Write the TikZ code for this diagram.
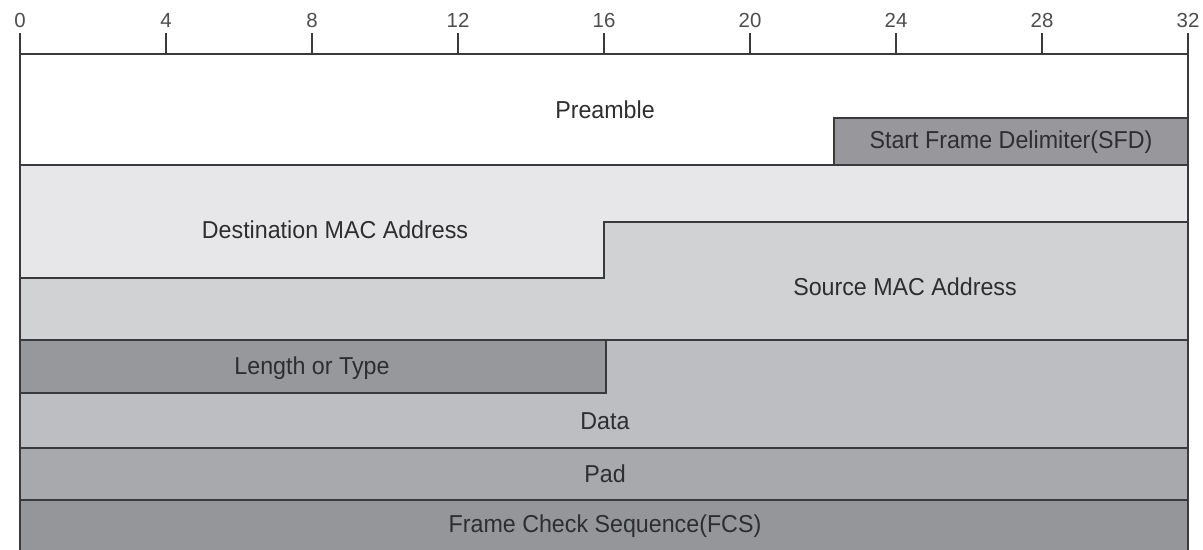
\documentclass[tikz,border=0pt]{standalone}
\usepackage{fontspec}
\setmainfont{Liberation Sans}
\definecolor{linegray}{HTML}{3A3A3C}
\definecolor{textgray}{HTML}{2E2E30}
\definecolor{sfdgray}{HTML}{98989C}
\definecolor{destgray}{HTML}{E7E7E9}
\definecolor{srcgray}{HTML}{D1D2D4}
\definecolor{lengray}{HTML}{97989B}
\definecolor{datagray}{HTML}{BDBEC1}
\definecolor{padgray}{HTML}{A8A9AC}
\definecolor{fcsgray}{HTML}{959699}
\begin{document}
\begin{tikzpicture}[x=0.025cm,y=-0.025cm,
    field/.style={draw=linegray,line width=1pt},
    fieldtext/.style={font=\fontsize{17.4}{19}\selectfont,text=textgray,inner sep=0pt,
      xscale=0.95},
    bittext/.style={font=\fontsize{14.5}{16}\selectfont,text=textgray!85,inner sep=0pt}]
    \useasboundingbox (0,0) rectangle (1203,550);

    % regla de bits
    \draw[field] (20,54) -- (1188,54);
    \foreach \b in {0,4,...,32}{
      \draw[field] ({20+36.5*\b},33) -- ({20+36.5*\b},54);
      \node[bittext] (bit\b) at ({20+36.5*\b},20) {\b};
    }

    % Preamble y SFD
    \draw[field,fill=white] (20,54) rectangle (1188,165);
    \node[fieldtext] (preamble) at (605,110) {Preamble};
    \draw[field,fill=sfdgray] (834,118) rectangle (1188,165);
    \node[fieldtext] (sfd) at (1011,142) {Start Frame Delimiter(SFD)};

    % direcciones MAC
    \draw[field,fill=destgray] (20,165) -- (1188,165) -- (1188,222) -- (604,222)
      -- (604,278) -- (20,278) -- cycle;
    \node[fieldtext] (dstmac) at (335,230) {Destination MAC Address};
    \draw[field,fill=srcgray] (20,278) -- (604,278) -- (604,222) -- (1188,222)
      -- (1188,340) -- (20,340) -- cycle;
    \node[fieldtext] (srcmac) at (905,287) {Source MAC Address};

    % Length or Type y Data
    \draw[field,fill=lengray] (20,340) rectangle (606,393);
    \node[fieldtext] (lentype) at (312,368) {Length or Type};
    \draw[field,fill=datagray] (20,393) -- (606,393) -- (606,340) -- (1188,340)
      -- (1188,448) -- (20,448) -- cycle;
    \node[fieldtext] (data) at (605,421) {Data};

    % Pad y FCS
    \draw[field,fill=padgray] (20,448) rectangle (1188,500);
    \node[fieldtext] (pad) at (605,474) {Pad};
    \fill[fcsgray] (20,500) rectangle (1188,550);
    \draw[field] (20,550) -- (20,500) -- (1188,500) -- (1188,550);
    \node[fieldtext] (fcs) at (605,526) {Frame Check Sequence(FCS)};
  \end{tikzpicture}
\end{document}
